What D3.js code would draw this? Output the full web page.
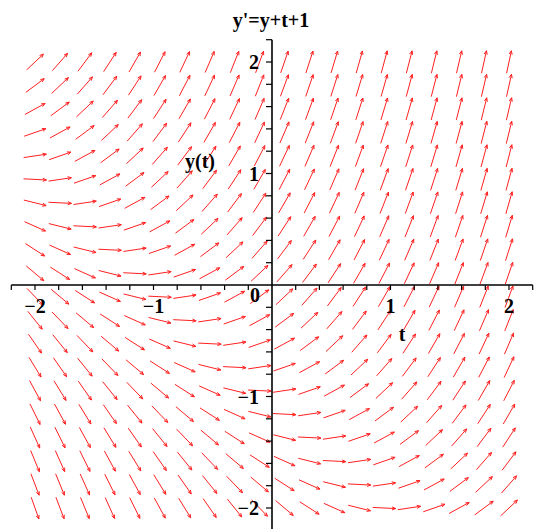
<!DOCTYPE html>
<html>
<head>
<meta charset="utf-8">
<script src="https://cdn.jsdelivr.net/npm/d3@7"></script>
<style>
  body { margin: 0; background: #fff; }
  text { font-family: "Liberation Serif", "DejaVu Serif", serif; font-weight: bold; fill: #000; }
</style>
</head>
<body>
<svg id="chart" width="540" height="529"></svg>
<script>
// Grid of arrow positions (Maple DEplot default, 20 x 20)
const tGrid = [-2, -1.789, -1.579, -1.368, -1.158, -0.947, -0.737, -0.526, -0.316, -0.105,
  0.105, 0.316, 0.526, 0.737, 0.947, 1.158, 1.368, 1.579, 1.789, 2];
const yGrid = [-2, -1.789, -1.579, -1.368, -1.158, -0.947, -0.737, -0.526, -0.316, -0.105,
  0.105, 0.316, 0.526, 0.737, 0.947, 1.158, 1.368, 1.579, 1.789, 2];

// Axis ticks
const tickValues = [-2.2, -2, -1.8, -1.6, -1.4, -1.2, -1, -0.8, -0.6, -0.4, -0.2,
  0.2, 0.4, 0.6, 0.8, 1, 1.2, 1.4, 1.6, 1.8, 2, 2.2];
const tLabels = [-2, -1, 1, 2];
const yLabels = [-2, -1, 1, 2];

// y' = y + t + 1
const slope = (t, y) => y + t + 1;

const svg = d3.select('#chart');

const x = d3.scaleLinear().domain([-2.2, 2.2]).range([11.3, 532.7]);
const y = d3.scaleLinear().domain([-2.2, 2.2]).range([530.3, 39.7]);

// Arrows
const arrowLen = 23;
const headLen = 4;
const headAng = 0.4;
const arrows = [];
tGrid.forEach((t) => {
  yGrid.forEach((v) => {
    const f = slope(t, v);
    // direction in screen space
    const dx = x(t + 1) - x(t);
    const dy = y(v + f) - y(v);
    const n = Math.hypot(dx, dy);
    const ux = dx / n;
    const uy = dy / n;
    const cx = x(t);
    const cy = y(v);
    const x0 = cx - ux * arrowLen / 2;
    const y0 = cy - uy * arrowLen / 2;
    const x1 = cx + ux * arrowLen / 2;
    const y1 = cy + uy * arrowLen / 2;
    const a = Math.atan2(uy, ux);
    const b1 = [x1 - headLen * Math.cos(a - headAng), y1 - headLen * Math.sin(a - headAng)];
    const b2 = [x1 - headLen * Math.cos(a + headAng), y1 - headLen * Math.sin(a + headAng)];
    arrows.push(`M${x0},${y0}L${x1},${y1}M${b1[0]},${b1[1]}L${x1},${y1}L${b2[0]},${b2[1]}`);
  });
});

svg.append('g')
  .selectAll('path')
  .data(arrows)
  .enter().append('path')
  .attr('d', (d) => d)
  .attr('fill', 'none')
  .attr('stroke', '#ff2020')
  .attr('stroke-width', 1);

// Axes
const axes = svg.append('g').attr('stroke', '#000');
axes.append('line')
  .attr('x1', x(-2.2)).attr('x2', x(2.2))
  .attr('y1', y(0)).attr('y2', y(0))
  .attr('stroke-width', 1.6);
axes.append('line')
  .attr('x1', x(0)).attr('x2', x(0))
  .attr('y1', y(2.2)).attr('y2', y(-2.2))
  .attr('stroke-width', 1.6);

axes.selectAll('.xt')
  .data(tickValues)
  .enter().append('line')
  .attr('x1', (d) => x(d)).attr('x2', (d) => x(d))
  .attr('y1', y(0)).attr('y2', y(0) + 5)
  .attr('stroke-width', 1.2);

axes.selectAll('.yt')
  .data(tickValues)
  .enter().append('line')
  .attr('x1', x(0) - 6).attr('x2', x(0))
  .attr('y1', (d) => y(d)).attr('y2', (d) => y(d))
  .attr('stroke-width', 1.2);

// Tick labels
svg.append('g')
  .selectAll('text')
  .data(tLabels)
  .enter().append('text')
  .attr('x', (d) => x(d))
  .attr('y', y(0) + 28)
  .attr('text-anchor', 'middle')
  .style('font-size', '20px')
  .text((d) => (d < 0 ? `\u2212${-d}` : d));

svg.append('g')
  .selectAll('text')
  .data(yLabels)
  .enter().append('text')
  .attr('x', x(0) - 13)
  .attr('y', (d) => y(d) + 7)
  .attr('text-anchor', 'end')
  .style('font-size', '20px')
  .text((d) => (d < 0 ? `\u2212${-d}` : d));

svg.append('text')
  .attr('x', x(0) - 12)
  .attr('y', y(0) + 17)
  .attr('text-anchor', 'end')
  .style('font-size', '20px')
  .text('0');

// Title and axis names
svg.append('text')
  .attr('x', 271)
  .attr('y', 27)
  .attr('text-anchor', 'middle')
  .style('font-size', '20px')
  .text("y'=y+t+1");

svg.append('text')
  .attr('x', 200)
  .attr('y', 168)
  .attr('text-anchor', 'middle')
  .style('font-size', '20px')
  .text('y(t)');

svg.append('text')
  .attr('x', 402)
  .attr('y', 341)
  .attr('text-anchor', 'middle')
  .style('font-size', '20px')
  .text('t');
</script>
</body>
</html>
